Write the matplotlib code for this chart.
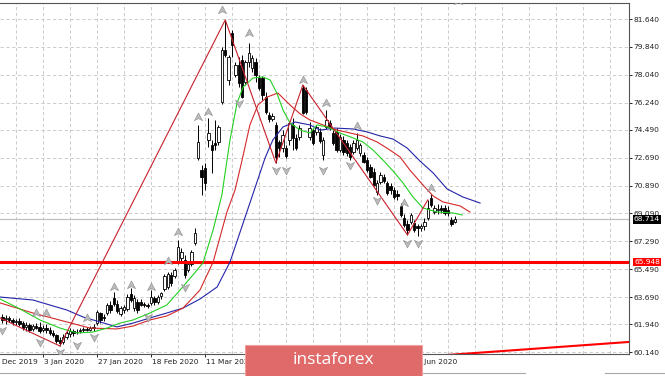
import matplotlib
matplotlib.use('Agg')
import matplotlib.pyplot as plt
from matplotlib.path import Path
from matplotlib.patches import Rectangle
from matplotlib.lines import Line2D

# daily USD/RUB candles, bar 0 = 3 Jan 2020
bar_idx = list(range(-12, 123))
opens = [
    62.40, 62.27, 62.34, 62.21, 62.08, 62.14, 62.01, 61.76, 61.89, 61.63, 61.82, 61.76,
    61.56, 61.69, 61.56, 61.37, 61.24, 60.92, 60.79, 61.11, 61.30, 61.50, 61.43, 61.50, 61.56, 61.63, 61.56, 61.69,
    62.01, 62.66, 62.40, 62.66, 63.18, 63.63, 63.24, 62.60, 62.85, 62.92, 63.89, 62.98, 63.37, 63.37, 63.24, 63.18,
    63.31, 63.63, 63.37, 63.76, 64.21, 64.34, 65.11, 65.05, 65.95, 66.21, 66.08, 65.44, 65.82, 67.18, 72.67, 71.89,
    72.02, 73.83, 73.51, 73.63, 73.70, 76.28, 79.64, 77.70, 80.74, 78.03, 78.67, 78.99, 77.57, 78.86, 78.48, 78.86,
    77.83, 77.83, 76.60, 75.44, 75.18, 74.80, 73.70, 73.31, 73.31, 73.83, 74.80, 73.96, 74.02, 77.19, 77.06, 74.02,
    74.47, 74.35, 74.35, 72.86, 74.67, 74.93, 74.28, 74.35, 73.18, 73.83, 73.63, 73.38, 73.05, 73.31, 72.99, 72.86,
    72.54, 72.09, 71.76, 70.47, 71.12, 71.44, 71.05, 70.86, 70.60, 70.34, 69.57, 68.79, 68.41, 68.53, 68.47, 68.28,
    68.15, 68.28, 68.79, 70.08, 69.18, 69.31, 69.44, 69.44, 69.31, 68.66, 68.53,
]
highs = [
    62.60, 62.53, 62.47, 62.34, 62.27, 62.34, 62.14, 62.08, 62.01, 61.95, 62.01, 62.08,
    61.89, 61.95, 61.76, 61.56, 61.30, 61.11, 61.30, 61.50, 61.69, 61.63, 61.63, 61.69, 61.76, 61.76, 61.82, 61.95,
    62.85, 62.72, 62.60, 63.31, 63.43, 64.02, 63.50, 63.11, 63.18, 63.89, 64.27, 63.82, 63.56, 63.56, 63.37, 63.31,
    64.14, 63.76, 63.82, 64.02, 65.18, 65.31, 65.31, 65.57, 67.37, 66.86, 66.40, 65.95, 66.73, 68.15, 74.80, 72.21,
    72.34, 75.25, 73.83, 75.12, 74.80, 79.83, 81.58, 79.32, 80.93, 78.86, 79.19, 79.32, 78.99, 80.09, 79.32, 79.12,
    78.03, 77.96, 76.93, 75.64, 75.57, 74.99, 73.83, 74.47, 73.51, 75.06, 75.25, 74.22, 74.80, 77.38, 77.25, 74.99,
    74.60, 74.80, 74.60, 74.02, 75.77, 75.12, 74.47, 74.60, 74.22, 74.09, 73.83, 73.57, 73.83, 74.28, 73.63, 73.05,
    72.73, 72.28, 72.02, 71.25, 71.76, 71.63, 71.18, 71.05, 70.79, 70.60, 69.76, 69.05, 68.66, 69.12, 68.66, 68.41,
    68.41, 68.79, 69.96, 70.34, 69.63, 69.70, 69.63, 69.63, 69.57, 68.86, 68.92,
]
lows = [
    62.01, 61.95, 62.08, 61.89, 61.89, 61.82, 61.56, 61.50, 61.43, 61.50, 61.63, 61.37,
    61.43, 61.37, 61.24, 61.11, 60.72, 60.53, 60.66, 60.98, 61.11, 61.18, 61.30, 61.37, 61.43, 61.50, 61.50, 61.50,
    61.89, 62.01, 62.14, 62.53, 62.66, 63.11, 62.66, 62.47, 62.66, 62.79, 63.37, 62.79, 62.66, 63.11, 63.05, 62.98,
    63.18, 63.18, 63.24, 63.56, 64.08, 64.21, 64.40, 64.92, 65.82, 65.95, 64.92, 65.31, 65.69, 67.05, 72.54, 70.28,
    70.60, 73.38, 71.70, 73.18, 73.51, 76.15, 79.19, 77.38, 79.19, 77.90, 77.25, 76.54, 77.38, 78.54, 78.22, 77.57,
    77.06, 76.41, 75.51, 74.99, 75.06, 72.34, 72.73, 73.05, 72.67, 73.51, 73.18, 73.18, 73.83, 75.51, 75.51, 73.83,
    73.51, 74.15, 73.63, 72.54, 74.54, 74.47, 73.51, 73.05, 73.05, 72.86, 72.80, 72.54, 72.92, 73.18, 72.80, 72.34,
    71.76, 71.38, 70.86, 70.28, 70.99, 71.05, 70.28, 70.34, 70.02, 69.96, 68.86, 68.21, 67.70, 68.41, 67.89, 67.63,
    67.95, 68.02, 68.66, 69.50, 69.05, 69.05, 69.12, 68.99, 68.92, 68.28, 68.47,
]
closes = [
    62.21, 62.34, 62.21, 62.08, 62.14, 61.95, 61.69, 61.89, 61.56, 61.82, 61.69, 61.50,
    61.69, 61.56, 61.37, 61.24, 60.85, 60.72, 61.11, 61.37, 61.50, 61.37, 61.45, 61.56, 61.63, 61.56, 61.69, 61.76,
    62.72, 62.21, 62.34, 63.18, 62.85, 63.24, 62.79, 62.98, 63.05, 63.69, 63.50, 63.63, 62.85, 63.18, 63.20, 63.11,
    63.69, 63.37, 63.69, 63.95, 65.05, 65.18, 64.60, 65.44, 66.92, 66.60, 65.11, 65.82, 66.60, 67.82, 73.70, 71.44,
    71.05, 74.28, 73.18, 73.51, 74.67, 79.64, 79.32, 79.19, 79.96, 78.67, 77.51, 76.60, 78.86, 79.45, 79.12, 78.03,
    77.19, 76.73, 75.64, 75.18, 75.38, 72.73, 73.31, 74.15, 72.80, 74.93, 73.96, 73.31, 74.60, 75.57, 75.64, 74.60,
    73.63, 74.67, 73.76, 73.83, 75.12, 74.60, 73.63, 73.18, 74.02, 73.05, 72.99, 72.73, 73.63, 73.83, 73.51, 72.41,
    71.89, 71.44, 70.92, 71.05, 71.57, 71.18, 70.41, 70.60, 70.15, 70.21, 68.99, 68.34, 68.02, 68.99, 68.02, 68.15,
    68.28, 68.53, 69.44, 69.63, 69.44, 69.37, 69.31, 69.12, 69.12, 68.41, 68.714,
]

# alligator lines (bar position, price)
jaw_idx = [-12.7, -3.0, 7.1, 11.9, 16.9, 21.9, 26.7, 31.7, 36.7, 41.5, 46.5, 51.6, 55.4, 59.3, 62.8,
           65.8, 68.1, 71.1, 74.7, 79.1, 82.1, 86.5, 91.9, 96.0, 99.9, 103.7, 107.9, 111.7, 115.6,
           119.7, 124.4, 129.5]
jaw_val = [63.69, 63.50, 62.85, 62.40, 62.08, 61.76, 62.01, 62.34, 62.66, 62.98, 63.56, 64.34, 65.95,
           68.47, 70.73, 72.67, 73.83, 74.67, 74.99, 74.80, 74.47, 74.60, 74.54, 74.35, 74.09, 73.89,
           73.31, 72.47, 71.70, 70.67, 70.15, 69.76]
teeth_idx = [-12.7, -3.0, 7.1, 13.9, 21.9, 26.7, 31.7, 36.7, 41.5, 46.5, 50.4, 54.5, 56.9, 59.0, 61.3,
             63.7, 66.4, 69.6, 73.2, 76.2, 79.1, 83.0, 87.1, 91.0, 94.8, 99.0, 102.8, 105.8, 108.7,
             112.6, 115.6, 118.5, 123.6, 126.5]
teeth_val = [63.31, 62.66, 62.08, 61.69, 61.63, 61.82, 62.21, 62.47, 62.98, 64.14, 65.95, 69.18, 70.60,
             72.54, 74.80, 76.09, 76.60, 76.86, 76.09, 75.51, 75.12, 74.80, 74.47, 74.28, 74.09, 73.70,
             73.18, 72.73, 71.89, 70.92, 70.21, 69.83, 69.57, 69.18]
lips_idx = [-12.7, -6.8, -0.9, 5.0, 10.1, 14.8, 19.0, 22.8, 26.7, 31.7, 36.7, 40.6, 44.4, 47.4, 50.4,
            53.0, 55.4, 57.5, 59.3, 62.2, 65.2, 67.3, 69.3, 71.1, 73.2, 76.2, 79.1, 81.2, 84.2, 88.0,
            91.9, 94.8, 97.8, 100.7, 103.7, 106.7, 109.6, 112.6, 116.7, 121.5, 124.2]
lips_val = [63.56, 62.92, 62.21, 61.69, 61.37, 61.43, 61.69, 62.01, 62.21, 62.66, 63.18, 64.14, 65.11,
            65.89, 68.02, 70.28, 73.83, 76.22, 77.25, 77.83, 77.90, 77.70, 76.86, 75.77, 74.93, 74.47,
            74.28, 74.80, 74.67, 74.28, 73.96, 73.70, 73.18, 72.54, 71.83, 71.05, 70.15, 69.44, 69.18,
            69.12, 68.99]

# zigzag pivots
zz_idx = [-20, 5, 54, 69, 77, 108, 114]
zz_val = [63.08, 60.53, 81.58, 72.34, 77.38, 67.70, 69.96]

# fractals
up_idx = [-2, 1, 13, 21, 26, 32, 37, 40, 46, 49, 53, 61, 77, 84, 93, 107, 115, 123]
up_val = [62.66, 62.66, 62.34, 64.34, 64.47, 64.34, 66.02, 67.89, 75.31, 75.64, 82.22, 80.74, 77.70,
          76.22, 74.73, 69.76, 70.73, 82.80]
dn_idx = [-12, -1, 5, 10, 15, 31, 42, 58, 69, 72, 83, 91, 99, 108, 111]
dn_val = [61.56, 60.79, 60.14, 60.59, 61.11, 62.40, 64.34, 76.22, 71.89, 71.89, 71.89, 72.21, 69.96,
          67.18, 67.18]

level_price = 65.948
last_price = 68.714
trend_idx = [100, 180]
trend_val = [59.64, 60.89]

y_ticks = [81.640, 79.840, 78.040, 76.240, 74.490, 72.690, 70.890, 69.090, 67.290, 65.490, 63.690,
           61.940, 60.140]
# date scale ticks every 16 bars; labels under the watermark are not visible in the chart
tick_idx = [0, 16, 32, 48, 64, 80, 96, 112]
date_idx = [-16, 0, 16, 32, 48, 110.6]
date_lbl = ['11 Dec 2019', '3 Jan 2020', '27 Jan 2020', '18 Feb 2020', '11 Mar 2020', '9 Jun 2020']

W, H = 665, 376
fig = plt.figure(figsize=(W / 100, H / 100), dpi=100)
ax = fig.add_axes([0, 22 / H, 629 / W, 351 / H])
ax.set_xlim(-12.74, 173.63)
ax.set_ylim(60.013, 82.673)
ax.set_axisbelow(True)

fs = 5.4
grid_kw = dict(color='#c4c4c4', lw=0.6, ls=(0, (4, 3)))
ax.set_xticks(tick_idx)
ax.set_xticklabels([])
ax.set_xticks(list(range(-8, 176, 8)), minor=True)
ax.grid(True, which='both', axis='x', **grid_kw)
ax.set_yticks(y_ticks)
ax.set_yticklabels(['%.3f' % v for v in y_ticks])
ax.grid(True, which='major', axis='y', **grid_kw)
ax.yaxis.tick_right()
ax.tick_params(axis='y', length=2.2, width=0.6, pad=1.3, labelsize=fs, labelcolor='#222222')
ax.tick_params(axis='x', which='major', length=2.2, width=0.6)
ax.tick_params(axis='x', which='minor', length=0)
for s in ['top', 'right', 'bottom']:
    ax.spines[s].set_color('#555555')
    ax.spines[s].set_linewidth(0.8)
ax.spines['left'].set_visible(False)

for d, t in zip(date_idx, date_lbl):
    ax.text(d + 0.2, -0.022, t, transform=ax.get_xaxis_transform(), ha='left', va='center',
            fontsize=fs, color='#222222', clip_on=False)

# price lines
ax.axhline(last_price, color='#c0c0c0', lw=0.9, zorder=1)
ax.axhline(level_price, color='#ff0000', lw=2.2, zorder=4)
ax.plot(trend_idx, trend_val, color='#ff0000', lw=1.5, zorder=4)

# alligator + zigzag
ax.plot(jaw_idx, jaw_val, color='#2424a8', lw=0.8, zorder=4)
ax.plot(teeth_idx, teeth_val, color='#d42828', lw=0.8, zorder=4)
ax.plot(lips_idx, lips_val, color='#22d022', lw=0.8, zorder=4)
ax.plot(zz_idx, zz_val, color='#c8202c', lw=0.8, zorder=4)

# candles
ax.vlines(bar_idx, lows, highs, color='black', lw=0.7, zorder=3)
for i, o, c in zip(bar_idx, opens, closes):
    bull = c >= o
    ax.bar(i, max(abs(c - o), 0.02), bottom=min(o, c), width=0.72,
           color='white' if bull else 'black', edgecolor='black', linewidth=0.6, zorder=3)

# fractal arrows
up_arrow = Path([(0, 1), (0.9, -0.7), (0, -0.25), (-0.9, -0.7), (0, 1)],
                [Path.MOVETO, Path.LINETO, Path.LINETO, Path.LINETO, Path.CLOSEPOLY])
dn_arrow = Path([(0, -1), (0.9, 0.7), (0, 0.25), (-0.9, 0.7), (0, -1)],
                [Path.MOVETO, Path.LINETO, Path.LINETO, Path.LINETO, Path.CLOSEPOLY])
ax.scatter(up_idx, up_val, marker=up_arrow, s=42, c='#bcbcbc', edgecolors='#8a8a8a',
           linewidths=0.4, zorder=5)
ax.scatter(dn_idx, dn_val, marker=dn_arrow, s=42, c='#bcbcbc', edgecolors='#8a8a8a',
           linewidths=0.4, zorder=5)

# price tags on the right scale
tag_x = 647 / 629
ax.text(tag_x, last_price, '%.3f' % last_price, transform=ax.get_yaxis_transform(), ha='center',
        va='center', fontsize=fs, color='white', zorder=20, clip_on=False,
        bbox=dict(boxstyle='square,pad=0.18', fc='black', ec='none'))
ax.text(tag_x, level_price, '%.3f' % level_price, transform=ax.get_yaxis_transform(), ha='center',
        va='center', fontsize=fs, color='white', zorder=20, clip_on=False,
        bbox=dict(boxstyle='square,pad=0.18', fc='#ff0000', ec='none'))

# bottom tabs and watermark banner
fig.add_artist(Line2D([0, 525 / W], [3.5 / H, 3.5 / H], transform=fig.transFigure, color='#a8a8a8', lw=0.8))
fig.add_artist(Line2D([605 / W, 1], [3.5 / H, 3.5 / H], transform=fig.transFigure, color='#a8a8a8', lw=0.8))
fig.add_artist(Rectangle((245 / W, 0), 177 / W, 31 / H, transform=fig.transFigure,
                         fc='#e06a6a', ec='#eea0a0', lw=0.8, zorder=10))
fig.text(333 / W, 16 / H, 'instaforex', color='white', fontsize=12.5, family='Open Sans',
         ha='center', va='center', zorder=11)

fig.savefig('out.png', dpi=100)
